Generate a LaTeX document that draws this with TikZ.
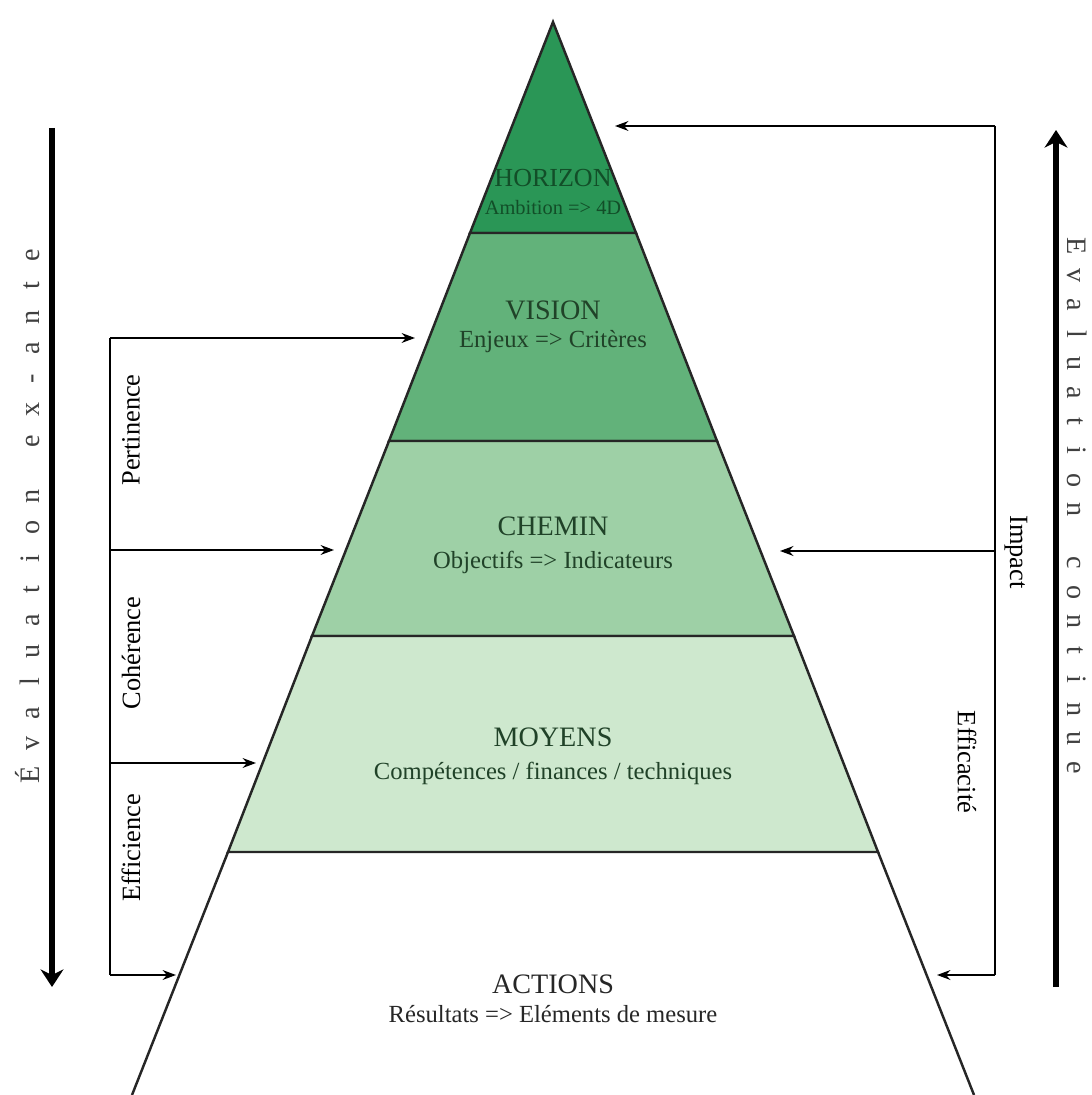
\documentclass[tikz,border=0pt]{standalone}
\usepackage{fontspec}
\setmainfont{Liberation Serif}
\usepackage{xcolor}
\usetikzlibrary{arrows.meta,positioning,calc}

\definecolor{horizonfill}{RGB}{42,150,86}
\definecolor{visionfill}{RGB}{98,178,122}
\definecolor{cheminfill}{RGB}{158,208,166}
\definecolor{moyensfill}{RGB}{206,232,206}
\definecolor{bandtext}{RGB}{32,66,40}
\definecolor{horizontext}{RGB}{18,78,40}

% letters set on an even pitch
\newlength\spreadpitch
\setlength\spreadpitch{8.8pt}
\makeatletter
\newcommand\spreadword[1]{\@tfor\sp@c:=#1\do{\makebox[\spreadpitch]{\sp@c}}}
\makeatother

\begin{document}
\begin{tikzpicture}[x=0.01cm, y=-0.01cm,
  >={Stealth[length=3.8pt,width=2.8pt]},
  band/.style={draw=black!85, line width=0.7pt, line join=miter},
  flow/.style={->, line width=0.45pt},
  timeline/.style={-{Stealth[length=5pt,width=6.5pt]}, line width=1.9pt},
  title/.style={font=\fontsize{8}{9}\selectfont, anchor=base, text=bandtext},
  sub/.style={font=\fontsize{7}{8}\selectfont, anchor=base, text=bandtext},
  crit/.style={font=\fontsize{7.5}{9}\selectfont, inner sep=0pt},
  spread/.style={font=\fontsize{8}{9}\selectfont, inner sep=0pt, text=black!75}]
  \useasboundingbox (0,0) rectangle (1091,1095);

  % Pyramid corners
  \coordinate (apex) at (553,22);
  \coordinate (hl) at (470,233);  \coordinate (hr) at (636,233);
  \coordinate (vl) at (389,441);  \coordinate (vr) at (717,441);
  \coordinate (cl) at (312,636);  \coordinate (cr) at (794,636);
  \coordinate (ml) at (228,852);  \coordinate (mr) at (878,852);
  \coordinate (al) at (132,1095); \coordinate (ar) at (974,1095);

  % Bands
  \filldraw[band, fill=horizonfill] (apex) -- (hr) -- (hl) -- cycle;
  \filldraw[band, fill=visionfill] (hl) -- (hr) -- (vr) -- (vl) -- cycle;
  \filldraw[band, fill=cheminfill] (vl) -- (vr) -- (cr) -- (cl) -- cycle;
  \filldraw[band, fill=moyensfill] (cl) -- (cr) -- (mr) -- (ml) -- cycle;
  \draw[band] (ml) -- (al);
  \draw[band] (mr) -- (ar);

  % Band labels
  \node[title, text=horizontext, font=\fontsize{7.4}{9}\selectfont] (horizon) at (553,187) {HORIZON};
  \node[sub, text=horizontext, font=\fontsize{5.8}{7}\selectfont] (ambition) at (553,215) {Ambition => 4D};
  \node[title] (vision) at (553,320) {VISION};
  \node[sub] (enjeux) at (553,348) {Enjeux => Critères};
  \node[title] (chemin) at (553,535) {CHEMIN};
  \node[sub] (objectifs) at (553,568) {Objectifs => Indicateurs};
  \node[title] (moyens) at (553,746) {MOYENS};
  \node[sub] (competences) at (553,779) {Compétences / finances / techniques};
  \node[title, text=black!85] (actions) at (553,993) {ACTIONS};
  \node[sub, text=black!85] (resultats) at (553,1022) {Résultats => Eléments de mesure};

  % Left bracket
  \coordinate (lt) at (110,338);  \coordinate (l2) at (110,550);
  \coordinate (l3) at (110,763);  \coordinate (lb) at (110,975);
  \coordinate (t1) at (415,338);  \coordinate (t2) at (334,550);
  \coordinate (t3) at (256,763);  \coordinate (t4) at (176,975);
  \draw[line width=0.45pt] (lt) -- (lb);
  \draw[flow] (lt) -- (t1);
  \draw[flow] (l2) -- (t2);
  \draw[flow] (l3) -- (t3);
  \draw[flow] (lb) -- (t4);
  \node[crit, rotate=90] (pertinence) at (131,430) {Pertinence};
  \node[crit, rotate=90] (coherence) at (131,653) {Cohérence};
  \node[crit, rotate=90] (efficience) at (131,848) {Efficience};

  % Right bracket
  \coordinate (rt) at (995,126);  \coordinate (rm) at (995,551);
  \coordinate (rb) at (995,975);
  \coordinate (s1) at (615,126);  \coordinate (s2) at (780,551);
  \coordinate (s3) at (937,975);
  \draw[line width=0.45pt] (rt) -- (rb);
  \draw[flow] (rt) -- (s1);
  \draw[flow] (rm) -- (s2);
  \draw[flow] (rb) -- (s3);
  \node[crit, rotate=-90] (impact) at (1016,552) {Impact};
  \node[crit, rotate=-90] (efficacite) at (967,762) {Efficacité};

  % Time axes
  \coordinate (exa) at (52,128);   \coordinate (exb) at (52,987);
  \coordinate (coa) at (1056,987); \coordinate (cob) at (1056,130);
  \draw[timeline] (exa) -- (exb);
  \draw[timeline] (coa) -- (cob);
  \node[spread, rotate=90] (exante) at (28,515)
    {\spreadword{Évaluation}\hskip 7pt\spreadword{ex-ante}};
  \node[spread, rotate=-90] (continue) at (1077,507)
    {\setlength\spreadpitch{8.3pt}\spreadword{Evaluation}\hskip 7pt\spreadword{continue}};
\end{tikzpicture}
\end{document}
